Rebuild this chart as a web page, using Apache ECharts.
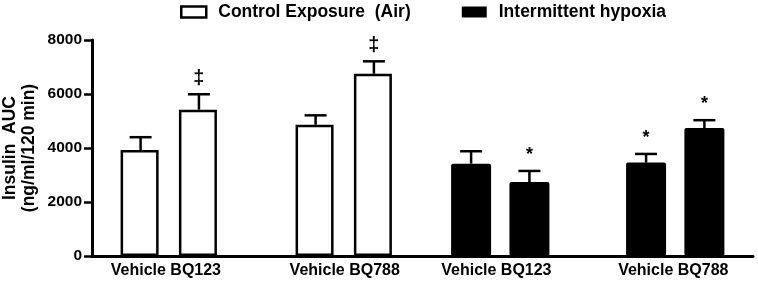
<!DOCTYPE html>
<html>
<head>
<meta charset="utf-8">
<script src="https://cdn.jsdelivr.net/npm/echarts@6/dist/echarts.min.js"></script>
<style>
  html, body { margin: 0; padding: 0; background: #fff; }
  #chart { width: 758px; height: 281px; }
</style>
</head>
<body>
<div id="chart"></div>
<script>
// group labels and where they sit on the hidden x scale
const groupNames = ['Vehicle BQ123', 'Vehicle BQ788', 'Vehicle BQ123', 'Vehicle BQ788']
const groupPos = [3.8, 13, 20.8, 29.9]

// bar positions (x scale units), means and upper error (mean + SEM)
const controlPos = [2.5, 5.5, 11.5, 14.5]
const controlMean = [3925, 5420, 4860, 6750]
const controlErr = [4400, 5990, 5210, 7210]
const controlMark = ['', '‡', '', '‡']

const hypoxiaPos = [19.5, 22.5, 28.5, 31.5]
const hypoxiaMean = [3420, 2740, 3460, 4740]
const hypoxiaErr = [3880, 3150, 3780, 5030]
const hypoxiaMark = ['', '*', '*', '*']

const yTicks = [0, 2000, 4000, 6000, 8000]
const yTitle = ['Insulin  AUC', '(ng/ml/120 min)']

const font = 'Liberation Sans, Arial, sans-serif'

let chart = echarts.init(document.getElementById('chart'))

// error bar rows: [x, mean, errTop, mark]
let errRows = []
controlPos.forEach((x, i) => errRows.push([x, controlMean[i], controlErr[i], controlMark[i]]))
hypoxiaPos.forEach((x, i) => errRows.push([x, hypoxiaMean[i], hypoxiaErr[i], hypoxiaMark[i]]))

function renderErr (params, api) {
  let base = api.coord([api.value(0), api.value(1)])
  let top = api.coord([api.value(0), api.value(2)])
  let mark = errRows[params.dataIndex][3]
  let style = { stroke: '#000', lineWidth: 2.5 }
  let children = [
    { type: 'line', shape: { x1: top[0], y1: base[1], x2: top[0], y2: top[1] }, style: style },
    { type: 'line', shape: { x1: top[0] - 11, y1: top[1], x2: top[0] + 11, y2: top[1] }, style: style }
  ]
  if (mark) {
    let size = mark === '‡' ? 20 : 18
    children.push({
      type: 'text',
      x: top[0],
      y: top[1] - 16,
      style: {
        text: mark,
        fill: '#000',
        font: 'bold ' + size + 'px ' + font,
        align: 'center',
        verticalAlign: 'middle'
      }
    })
  }
  return { type: 'group', children: children }
}

chart.setOption({
  animation: false,
  grid: { left: 92, right: 5, top: 40, bottom: 25, outerBoundsMode: 'none' },
  // rotated y axis title, two lines
  graphic: yTitle.map((t, i) => ({
    type: 'text',
    x: 10 + i * 19,
    y: 148,
    rotation: Math.PI / 2,
    style: {
      text: t,
      fill: '#000',
      font: 'bold 17.5px ' + font,
      align: 'center',
      verticalAlign: 'middle'
    }
  })),
  legend: {
    left: 175,
    top: -2,
    itemWidth: 25,
    itemHeight: 11,
    itemGap: 51,
    textStyle: { fontFamily: font, fontWeight: 'bold', fontSize: 17.5, color: '#000', padding: [0, 0, 0, 7] },
    data: [
      { name: 'Control Exposure  (Air)', icon: 'rect', itemStyle: { color: '#fff', borderColor: '#000', borderWidth: 2.5 } },
      { name: 'Intermittent hypoxia', icon: 'rect', itemStyle: { color: '#000' } }
    ]
  },
  xAxis: {
    type: 'value',
    min: 0,
    max: 34,
    splitLine: { show: false },
    axisLine: { show: true, lineStyle: { color: '#000', width: 3 } },
    axisTick: { show: false },
    axisLabel: {
      customValues: groupPos,
      margin: 7,
      color: '#000',
      fontFamily: font,
      fontWeight: 'bold',
      fontSize: 16,
      formatter: v => groupNames[groupPos.indexOf(v)] || ''
    }
  },
  yAxis: {
    type: 'value',
    min: 0,
    max: 8000,
    interval: 2000,
    splitLine: { show: false },
    axisLine: { show: true, lineStyle: { color: '#000', width: 3 } },
    axisTick: { show: true, length: 8, lineStyle: { color: '#000', width: 2.5 } },
    axisLabel: {
      margin: 10,
      color: '#000',
      fontFamily: font,
      fontWeight: 'bold',
      fontSize: 15.5,
      customValues: yTicks,
      formatter: v => String(v)
    }
  },
  series: [
    {
      name: 'Control Exposure  (Air)',
      type: 'bar',
      barWidth: 38,
      barGap: '-100%',
      itemStyle: { color: '#fff', borderColor: '#000', borderWidth: 2.5 },
      data: controlPos.map((x, i) => [x, controlMean[i]])
    },
    {
      name: 'Intermittent hypoxia',
      type: 'bar',
      barWidth: 40,
      barGap: '-100%',
      itemStyle: { color: '#000', borderRadius: 2 },
      data: hypoxiaPos.map((x, i) => [x, hypoxiaMean[i]])
    },
    {
      type: 'custom',
      renderItem: renderErr,
      encode: { x: 0, y: 2 },
      z: 5,
      clip: false,
      silent: true,
      data: errRows.map(r => [r[0], r[1], r[2]])
    }
  ]
})
</script>
</body>
</html>
